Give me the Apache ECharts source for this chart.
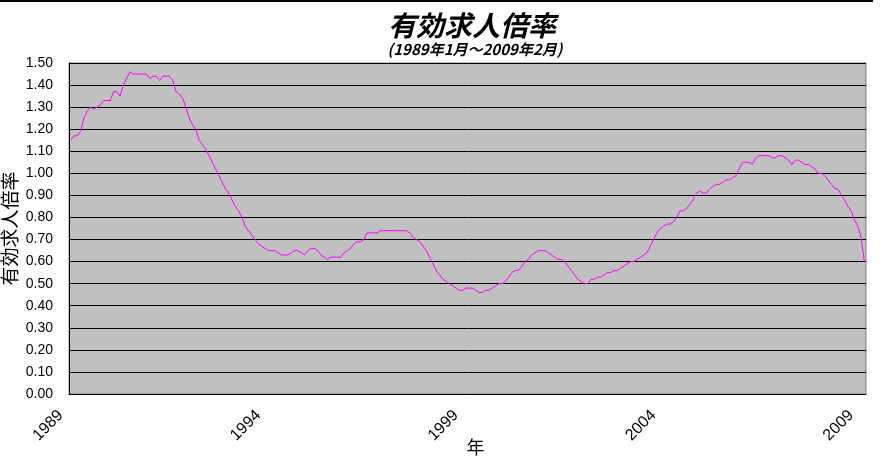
<!DOCTYPE html>
<html>
<head>
<meta charset="utf-8">
<script src="https://cdn.jsdelivr.net/npm/echarts@6/dist/echarts.min.js"></script>
<style>
  html, body { margin: 0; padding: 0; background: #fff; }
  #main { width: 880px; height: 460px; }
</style>
</head>
<body>
<div id="main"></div>
<script>
// monthly values
var ratio1989to1993 = [
  1.15, 1.17, 1.17, 1.19, 1.25, 1.28, 1.30, 1.29, 1.30, 1.31, 1.33, 1.33,
  1.33, 1.37, 1.37, 1.35, 1.40, 1.43, 1.46, 1.45, 1.45, 1.45, 1.45, 1.45,
  1.43, 1.44, 1.44, 1.42, 1.44, 1.44, 1.44, 1.42, 1.37, 1.36, 1.34, 1.30,
  1.25, 1.22, 1.20, 1.15, 1.13, 1.11, 1.08, 1.05, 1.02, 0.99, 0.96, 0.93,
  0.91, 0.88, 0.85, 0.83, 0.80, 0.76, 0.74, 0.72, 0.70, 0.68, 0.67, 0.66
];
var ratio1994to1998 = [
  0.65, 0.65, 0.65, 0.64, 0.63, 0.63, 0.63, 0.64, 0.65, 0.65, 0.64, 0.63,
  0.65, 0.66, 0.66, 0.65, 0.63, 0.62, 0.61, 0.62, 0.62, 0.62, 0.62, 0.64,
  0.65, 0.66, 0.68, 0.69, 0.69, 0.70, 0.73, 0.73, 0.73, 0.73, 0.74, 0.74,
  0.74, 0.74, 0.74, 0.74, 0.74, 0.74, 0.74, 0.73, 0.71, 0.70, 0.69, 0.67,
  0.65, 0.62, 0.59, 0.56, 0.54, 0.52, 0.51, 0.50, 0.49, 0.48, 0.47, 0.47
];
var ratio1999to2003 = [
  0.48, 0.48, 0.48, 0.47, 0.46, 0.46, 0.47, 0.47, 0.48, 0.49, 0.50, 0.50,
  0.51, 0.53, 0.55, 0.56, 0.56, 0.58, 0.60, 0.61, 0.63, 0.64, 0.65, 0.65,
  0.65, 0.64, 0.63, 0.62, 0.61, 0.61, 0.60, 0.58, 0.56, 0.54, 0.52, 0.51,
  0.50, 0.50, 0.52, 0.52, 0.53, 0.53, 0.54, 0.55, 0.55, 0.56, 0.56, 0.57,
  0.58, 0.59, 0.60, 0.60, 0.61, 0.62, 0.63, 0.64, 0.67, 0.70, 0.73, 0.75
];
var ratio2004to2009 = [
  0.76, 0.77, 0.77, 0.78, 0.80, 0.83, 0.83, 0.84, 0.86, 0.88, 0.91, 0.92,
  0.91, 0.91, 0.93, 0.94, 0.95, 0.95, 0.96, 0.97, 0.97, 0.98, 0.99, 1.02,
  1.05, 1.05, 1.05, 1.04, 1.07, 1.08, 1.08, 1.08, 1.08, 1.07, 1.07, 1.08,
  1.08, 1.07, 1.06, 1.04, 1.06, 1.06, 1.05, 1.04, 1.04, 1.03, 1.02, 1.00,
  1.00, 0.99, 0.97, 0.95, 0.93, 0.93, 0.90, 0.88, 0.85, 0.83, 0.79, 0.76,
  0.71, 0.60
];
var firstYear = 1989, lastYear = 2009, lastMonth = 2;

var ratio = ratio1989to1993.concat(ratio1994to1998, ratio1999to2003, ratio2004to2009);
var months = [];
for (var y = firstYear; y <= lastYear; y++) {
  for (var m = 1; m <= 12; m++) {
    if (y == lastYear && m > lastMonth) break;
    months.push(y + '年' + m + '月');
  }
}

var myChart = echarts.init(document.getElementById('main'));
var font = '"Liberation Sans", "Noto Sans CJK JP", sans-serif';
var option = {
  backgroundColor: '#ffffff',
  animation: false,
  title: [
    {
      text: '有効求人倍率',
      left: 467,
      top: 6,
      textAlign: 'center',
      textStyle: {
        fontFamily: '"Noto Sans CJK JP", sans-serif',
        fontSize: 28,
        fontWeight: 'bold',
        fontStyle: 'italic',
        color: '#000'
      }
    },
    {
      text: '(1989年1月～2009年2月)',
      left: 470,
      top: 37,
      textAlign: 'center',
      textStyle: {
        fontFamily: '"Noto Sans CJK JP", sans-serif',
        fontSize: 15,
        fontWeight: 'bold',
        fontStyle: 'italic',
        color: '#000'
      }
    }
  ],
  graphic: [
    {
      type: 'line',
      shape: { x1: 0, y1: 1, x2: 873, y2: 1 },
      style: { stroke: '#000', lineWidth: 2 }
    }
  ],
  grid: {
    left: 69,
    right: 14,
    top: 63,
    bottom: 66,
    outerBoundsMode: 'none',
    containLabel: false,
    show: true,
    backgroundColor: '#c0c0c0',
    borderColor: '#808080',
    borderWidth: 1
  },
  xAxis: {
    type: 'category',
    data: months,
    boundaryGap: true,
    name: '年',
    nameLocation: 'middle',
    nameGap: 46,
    nameMoveOverlap: false,
    nameTextStyle: { fontFamily: font, fontSize: 18, color: '#000', padding: [0, 0, 0, 16] },
    axisLine: { lineStyle: { color: '#000', width: 1 } },
    axisTick: { inside: true, length: 6, interval: 11, lineStyle: { color: '#000' } },
    axisLabel: {
      interval: 59,
      rotate: 45,
      margin: 9,
      padding: [0, 14, 0, 0],
      fontFamily: font,
      fontSize: 16,
      color: '#000',
      formatter: function (v) { return v.split('年')[0]; }
    },
    splitLine: { show: false }
  },
  yAxis: {
    type: 'value',
    min: 0,
    max: 1.5,
    interval: 0.1,
    name: '有効求人倍率',
    nameLocation: 'middle',
    nameGap: 48,
    nameMoveOverlap: false,
    nameTextStyle: { fontFamily: font, fontSize: 19, color: '#000' },
    axisLine: { show: true, lineStyle: { color: '#000', width: 1 } },
    axisTick: { show: false },
    axisLabel: {
      margin: 16,
      fontFamily: font,
      fontSize: 14,
      color: '#000',
      formatter: function (v) { return v.toFixed(2); }
    },
    splitLine: { lineStyle: { color: '#000', width: 1 } }
  },
  series: [
    {
      name: '有効求人倍率',
      type: 'line',
      data: ratio,
      symbol: 'none',
      lineStyle: { color: '#ff00ff', width: 1 }
    }
  ]
};
myChart.setOption(option);
window.addEventListener('resize', function () {
  myChart.resize();
});
</script>
</body>
</html>
